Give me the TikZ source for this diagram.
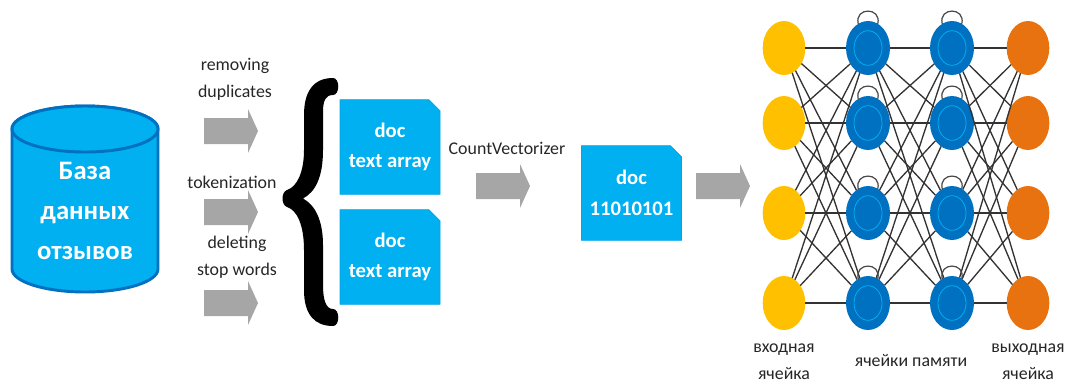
\documentclass[tikz,border=0pt]{standalone}
\usepackage{fontspec}
\setmainfont{Carlito}
\usetikzlibrary{shapes.geometric,shapes.misc}
\definecolor{cyan1}{HTML}{00B0F0}
\definecolor{blue1}{HTML}{0070C0}
\definecolor{gray1}{HTML}{A6A6A6}
\definecolor{yellow1}{HTML}{FFC000}
\definecolor{orange1}{HTML}{E97210}
\definecolor{edge1}{HTML}{333333}
\tikzset{
  blockarrow/.pic={\fill[gray1] (-27,-13) -- (17,-13) -- (17,-22) -- (27,0) -- (17,22) -- (17,13) -- (-27,13) -- cycle;},
  docbox/.style={chamfered rectangle,chamfered rectangle corners=north east,
    chamfered rectangle xsep=3.75pt,chamfered rectangle ysep=4.5pt,
    fill=cyan1,draw=cyan1!85!blue1,line width=.4pt,inner sep=0pt,outer sep=0pt,
    minimum width=75pt,minimum height=71pt,text=white,align=center,
    font=\fontsize{15.5}{23}\selectfont\bfseries},
  caption/.style={align=center,inner sep=0pt,text=black!85,
    font=\fontsize{13.4}{20.2}\selectfont},
  dbtitle/.style={align=center,inner sep=0pt,text=white,
    font=\fontsize{20}{30}\selectfont\bfseries},
  dbbody/.style={draw=blue1,line width=2.2pt,fill=cyan1},
  neuron/.style={ellipse,draw=none,inner sep=0pt,outer sep=0pt,minimum width=32pt,minimum height=40.5pt},
  inneuron/.style={neuron,fill=yellow1},
  outneuron/.style={neuron,fill=orange1},
  hidneuron/.style={neuron,fill=blue1,minimum width=33pt},
  ring/.style={ellipse,draw=cyan1,line width=.6pt,inner sep=0pt,minimum width=21pt,minimum height=26pt},
  wire/.style={draw=edge1,line width=1pt},
  selfloop/.style={draw=edge1!90,line width=.9pt}
}
\begin{document}
\begin{tikzpicture}[x=0.75pt,y=-0.75pt]
\useasboundingbox (0,0) rectangle (1067,383);
% database
\draw[dbbody] (12,129) -- (12,269) arc[start angle=180,end angle=0,x radius=73,y radius=23] -- (158,129)
  arc[start angle=0,end angle=-180,x radius=73,y radius=23] -- cycle;
\draw[dbbody] (85,129) ellipse[x radius=73,y radius=23];
\node[dbtitle] (dbt) at (85,211) {База\\данных\\отзывов};
% captions
\node[caption] (c1) at (235,79) {removing\\duplicates};
\node[caption] (c2) at (232,182) {tokenization};
\node[caption] (c3) at (237,257) {deleting\\stop words};
\node[caption] (c4) at (507,148) {CountVectorizer};
% block arrows
\pic (a1) at (231,131) {blockarrow};
\pic (a2) at (231,212) {blockarrow};
\pic (a3) at (231,303) {blockarrow};
\pic (a4) at (503,186) {blockarrow};
\pic (a5) at (723,186) {blockarrow};
% brace
\fill[black] (333,78) .. controls (313,78) and (304,92) .. (304,115) -- (304,150)
  .. controls (304,172) and (297,187) .. (287,190)
  .. controls (281,192) and (281,205) .. (287,207)
  .. controls (297,210) and (304,225) .. (304,250) -- (304,290)
  .. controls (304,315) and (315,326) .. (333,326)
  .. controls (340,326) and (340,309) .. (333,309)
  .. controls (326,309) and (323,300) .. (323,285) -- (323,245)
  .. controls (323,220) and (315,205) .. (303,198.5)
  .. controls (315,192) and (323,178) .. (323,150) -- (323,112)
  .. controls (323,100) and (326,95) .. (333,95)
  .. controls (340,95) and (340,78) .. (333,78) -- cycle;
% documents
\node[docbox] (d1) at (390,147) {doc\\text array};
\node[docbox] (d2) at (390,257) {doc\\text array};
\node[docbox] (d3) at (631.5,193) {doc\\11010101};
% network
\foreach \n/\y in {1/48,2/123,3/213,4/303}{
  \node[inneuron] (i\n) at (784,\y) {};
  \node[hidneuron] (p\n) at (868,\y) {};
  \node[hidneuron] (q\n) at (952,\y) {};
  \node[outneuron] (o\n) at (1028,\y) {};
  \node[ring] (rp\n) at (868,\y) {};
  \node[ring] (rq\n) at (952,\y) {};
}
\foreach \s in {1,2,3,4}{
  \foreach \t in {1,2,3,4}{
    \draw[wire] (i\s) -- (p\t);
    \draw[wire] (p\s) -- (q\t);
    \draw[wire] (q\s) -- (o\t);
  }
  \draw[selfloop] (p\s.112) .. controls +(-4,-17) and +(4,-17) .. (p\s.68);
  \draw[selfloop] (q\s.112) .. controls +(-4,-17) and +(4,-17) .. (q\s.68);
}
% labels
\node[caption] (l1) at (784,362) {входная\\ячейка};
\node[caption] (l2) at (911,361) {ячейки памяти};
\node[caption] (l3) at (1028,362) {выходная\\ячейка};
\end{tikzpicture}
\end{document}
